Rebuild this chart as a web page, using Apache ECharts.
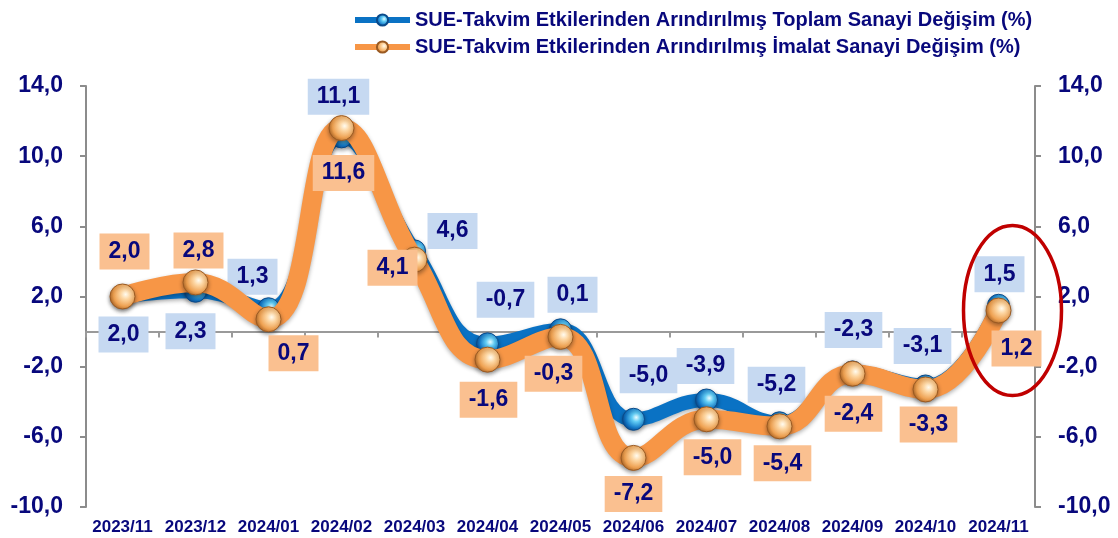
<!DOCTYPE html>
<html>
<head>
<meta charset="utf-8">
<script src="https://cdn.jsdelivr.net/npm/echarts@6/dist/echarts.min.js"></script>
<style>
  html, body { margin: 0; padding: 0; background: #fff; }
  #main { width: 1118px; height: 538px; }
</style>
</head>
<body>
<div id="main"></div>
<script>
// aylar
var categories = ['2023/11', '2023/12', '2024/01', '2024/02', '2024/03', '2024/04', '2024/05',
  '2024/06', '2024/07', '2024/08', '2024/09', '2024/10', '2024/11']
// Toplam sanayi (%)
var toplam = [2.0, 2.3, 1.3, 11.1, 4.6, -0.7, 0.1, -5.0, -3.9, -5.2, -2.3, -3.1, 1.5]
// Imalat sanayi (%)
var imalat = [2.0, 2.8, 0.7, 11.6, 4.1, -1.6, -0.3, -7.2, -5.0, -5.4, -2.4, -3.3, 1.2]
// y ekseni
var yMin = -10
var yMax = 14
var yStep = 4

// etiket kaydirmalari (px)
var toplamLabelOffset = [[1, 38], [-5, 40], [-16, -32], [-3, -40], [38, -20], [18, -44], [12, -35],
  [15, -44], [-1, -34], [-3, -38], [1, -42], [-3, -40], [1, -31]]
var imalatLabelOffset = [[2, -45], [3, -32], [25, 34], [2, 45], [-22, 8], [1, 40], [-7, 37],
  [0, 36], [6, 38], [3, 37], [1, 40], [3, 35], [18, 38]]

var navy = '#08087c'
var font = "'Liberation Sans', Arial, sans-serif"

function fmt(v) {
  return v.toFixed(1).replace('.', ',')
}

function buildData(values, offsets, bg) {
  return values.map(function (v, i) {
    return {
      value: v,
      label: { offset: offsets[i], backgroundColor: bg }
    }
  })
}

var blueBall = {
  type: 'radial', x: 0.62, y: 0.42, r: 0.62,
  colorStops: [
    { offset: 0, color: '#eafcff' },
    { offset: 0.3, color: '#62cdf5' },
    { offset: 0.75, color: '#1479c8' },
    { offset: 1, color: '#0b4c92' }
  ]
}
var orangeBall = {
  type: 'radial', x: 0.62, y: 0.42, r: 0.62,
  colorStops: [
    { offset: 0, color: '#fffbef' },
    { offset: 0.3, color: '#fdd6a2' },
    { offset: 0.75, color: '#eea050' },
    { offset: 1, color: '#b86f2c' }
  ]
}

var labelBase = {
  show: true,
  position: 'inside',
  formatter: function (p) { return fmt(p.value) },
  color: navy,
  fontFamily: font,
  fontWeight: 'bold',
  fontSize: 23,
  lineHeight: 24,
  padding: [6, 9]
}

var chart = echarts.init(document.getElementById('main'))

var yAxisBase = {
  type: 'value',
  min: yMin,
  max: yMax,
  interval: yStep,
  splitLine: { show: false },
  axisLine: { show: true, lineStyle: { color: '#8c8c8c', width: 2 } },
  axisTick: { show: true, length: 6, lineStyle: { color: '#8c8c8c', width: 2 } },
  axisLabel: {
    color: navy,
    fontFamily: font,
    fontWeight: 'bold',
    fontSize: 23,
    margin: 23,
    formatter: function (v) { return fmt(v) }
  }
}

chart.setOption({
  backgroundColor: '#ffffff',
  animation: false,
  legend: {
    orient: 'vertical',
    left: 347,
    top: 5,
    itemGap: 7,
    itemWidth: 55,
    itemHeight: 14,
    lineStyle: { width: 6 },
    textStyle: { color: navy, fontFamily: font, fontWeight: 'bold', fontSize: 20 },
    data: ['SUE-Takvim Etkilerinden Arındırılmış Toplam Sanayi Değişim (%)',
      'SUE-Takvim Etkilerinden Arındırılmış İmalat Sanayi Değişim (%)']
  },
  grid: { left: 86, right: 83, top: 86, bottom: 31 },
  xAxis: [
    {
      type: 'category',
      data: categories,
      position: 'bottom',
      axisLine: { onZero: true, lineStyle: { color: '#9a9a9a', width: 2 } },
      axisTick: { show: true, length: 6, lineStyle: { color: '#9a9a9a', width: 2 } },
      axisLabel: { show: false }
    },
    {
      type: 'category',
      data: categories,
      position: 'bottom',
      axisLine: { show: false, onZero: false },
      axisTick: { show: false },
      axisLabel: {
        color: navy,
        fontFamily: font,
        fontWeight: 'bold',
        fontSize: 17,
        margin: 12,
        interval: 0
      }
    }
  ],
  yAxis: [
    Object.assign({}, yAxisBase, { position: 'left' }),
    Object.assign({}, yAxisBase, { position: 'right' })
  ],
  series: [
    {
      name: 'SUE-Takvim Etkilerinden Arındırılmış Toplam Sanayi Değişim (%)',
      type: 'line',
      smooth: 0.45,
      symbol: 'circle',
      symbolSize: 22,
      color: '#0a72c4',
      lineStyle: {
        color: '#0a72c4', width: 14,
        shadowBlur: 4, shadowColor: 'rgba(0,0,0,0.3)', shadowOffsetY: 2
      },
      itemStyle: {
        color: blueBall, borderColor: '#0a4a8a', borderWidth: 1,
        shadowBlur: 4, shadowColor: 'rgba(0,0,0,0.35)', shadowOffsetY: 2
      },
      label: labelBase,
      data: buildData(toplam, toplamLabelOffset, '#c6d9f1'),
      z: 2
    },
    {
      name: 'SUE-Takvim Etkilerinden Arındırılmış İmalat Sanayi Değişim (%)',
      type: 'line',
      smooth: 0.45,
      symbol: 'circle',
      symbolSize: 25,
      color: '#f79646',
      lineStyle: {
        color: '#f79646', width: 19,
        shadowBlur: 4, shadowColor: 'rgba(0,0,0,0.3)', shadowOffsetY: 2
      },
      itemStyle: {
        color: orangeBall, borderColor: '#9a5a22', borderWidth: 1,
        shadowBlur: 4, shadowColor: 'rgba(0,0,0,0.35)', shadowOffsetY: 2
      },
      label: labelBase,
      data: buildData(imalat, imalatLabelOffset, '#fac090'),
      z: 3
    }
  ]
})

// son ayi vurgulayan kirmizi elips
var last = categories.length - 1
var p = chart.convertToPixel({ xAxisIndex: 0, yAxisIndex: 0 }, [last, imalat[last]])
chart.setOption({
  graphic: [{
    type: 'ellipse',
    shape: { cx: p[0] + 14, cy: p[1], rx: 49, ry: 85 },
    style: { fill: 'none', stroke: '#c00000', lineWidth: 3.5 },
    z: 100
  }]
})
</script>
</body>
</html>
